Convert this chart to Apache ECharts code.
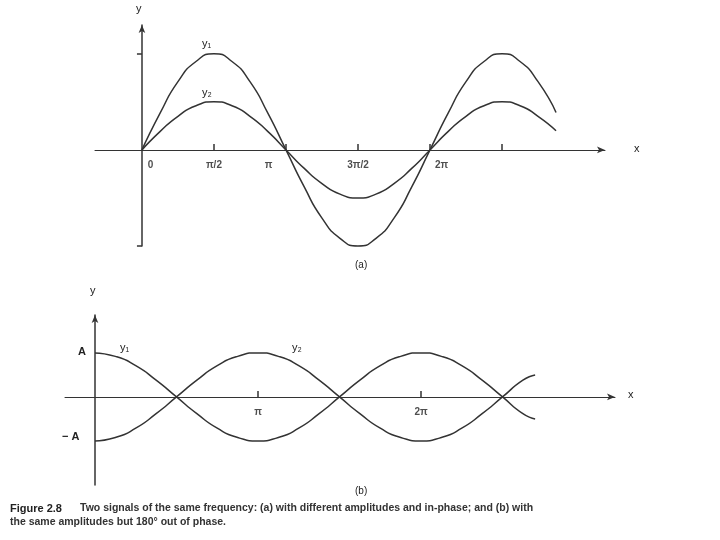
<!DOCTYPE html>
<html><head><meta charset="utf-8">
<script src="https://cdn.jsdelivr.net/npm/echarts@6/dist/echarts.min.js"></script>
<style>body{margin:0;background:#fff}#c{width:720px;height:540px}</style></head>
<body><div id="c"></div>
<script>
// x values are in units of π
const xA = [0,0.125,0.25,0.375,0.5,0.625,0.75,0.875,1,1.125,1.25,1.375,1.5,1.625,1.75,1.875,2,2.125,2.25,2.375,2.5,2.625,2.75,2.875];
const y1A = [0,0.38,0.71,0.92,1,0.92,0.71,0.38,0,-0.38,-0.71,-0.92,-1,-0.92,-0.71,-0.38,0,0.38,0.71,0.92,1,0.92,0.71,0.39];
const y2A = [0,0.19,0.35,0.46,0.5,0.46,0.35,0.19,0,-0.19,-0.35,-0.46,-0.5,-0.46,-0.35,-0.19,0,0.19,0.35,0.46,0.5,0.46,0.35,0.2];
const ticksA = [0.5,1,1.5,2,2.5];
const labelsA = [{x:0.06,t:'0'},{x:0.5,t:'π/2'},{x:0.88,t:'π'},{x:1.5,t:'3π/2'},{x:2.08,t:'2π'}];
const xB = [0,0.125,0.25,0.375,0.5,0.625,0.75,0.875,1,1.125,1.25,1.375,1.5,1.625,1.75,1.875,2,2.125,2.25,2.375,2.5,2.625,2.7];
const y1B = [1,0.92,0.71,0.38,0,-0.38,-0.71,-0.92,-1,-0.92,-0.71,-0.38,0,0.38,0.71,0.92,1,0.92,0.71,0.38,0,-0.38,-0.5];
const y2B = [-1,-0.92,-0.71,-0.38,0,0.38,0.71,0.92,1,0.92,0.71,0.38,0,-0.38,-0.71,-0.92,-1,-0.92,-0.71,-0.38,0,0.38,0.5];
const ticksB = [1,2];
const labelsB = [{x:1,t:'π'},{x:2,t:'2π'}];

const ink = '#333';
const F = 'Liberation Sans, Arial, sans-serif';
const zip = (xs, ys) => xs.map((x,i)=>[x,ys[i]]);
const lineS = (g, d) => ({type:'line', xAxisIndex:g, yAxisIndex:g, data:d, smooth:0.6, clip:false, showSymbol:false, lineStyle:{color:ink,width:1.5}, silent:true});
const lblS = (g, L) => ({type:'scatter', xAxisIndex:g, yAxisIndex:g, symbolSize:0, data:L.map(l=>({value:[l.x,0],label:{show:true,formatter:l.t,position:'bottom',distance:10,color:'#222',fontSize:10,fontWeight:'bold',fontFamily:F}})), silent:true});
const xAx = (g, min, max, ticks) => ({type:'value', gridIndex:g, min, max, splitLine:{show:false}, axisLabel:{show:false},
  axisLine:{onZero:true, lineStyle:{color:ink,width:1}, symbol:['none','arrow'], symbolSize:[5,8]},
  axisTick:{show:true, customValues:ticks, inside:true, length:6, lineStyle:{color:ink,width:1.5}}});
const yAx = (g, min, max, ticks) => ({type:'value', gridIndex:g, min, max, splitLine:{show:false}, axisLabel:{show:false},
  axisLine:{onZero:true, lineStyle:{color:ink,width:1.5}, symbol:['none','arrow'], symbolSize:[5,8]},
  axisTick:{show:ticks.length>0, customValues:ticks, length:5, inside:false, lineStyle:{color:ink,width:1.5}}});

const T = (x,y,t,o={}) => ({type:'text', left:x, top:y, style:Object.assign({text:t, fill:'#222', font:'11px '+F}, o)});

echarts.init(document.getElementById('c')).setOption({
  animation:false,
  grid:[{left:95,width:510,top:25,height:221},{left:65,width:550,top:315,height:170}],
  xAxis:[xAx(0,-0.326,3.215,ticksA), xAx(1,-0.184,3.19,ticksB)],
  yAxis:[yAx(0,-1,1.3,[1,-1]), yAx(1,-2.0,1.86,[])],
  series:[lineS(0,zip(xA,y1A)), lineS(0,zip(xA,y2A)), lblS(0,labelsA),
          lineS(1,zip(xB,y1B)), lineS(1,zip(xB,y2B)), lblS(1,labelsB)],
  graphic:[
    T(136,3,'y'), T(634,143,'x'), T(355,260,'(a)',{font:'10px '+F}),
    T(202,38,'y₁'), T(202,87,'y₂'),
    T(90,285,'y'), T(628,389,'x'), T(355,486,'(b)',{font:'10px '+F}),
    T(78,346,'A',{font:'bold 11px '+F}), T(62,431,'− A',{font:'bold 11px '+F}), T(120,342,'y₁'), T(292,342,'y₂'),
    T(10,503,'Figure 2.8',{font:'bold 11px '+F}),
    T(80,503,'Two signals of the same frequency: (a) with different amplitudes and in-phase; and (b) with',{font:'bold 10.5px '+F, fill:'#333'}),
    T(10,517,'the same amplitudes but 180° out of phase.',{font:'bold 10.5px '+F, fill:'#333'})
  ]
});
</script></body></html>
